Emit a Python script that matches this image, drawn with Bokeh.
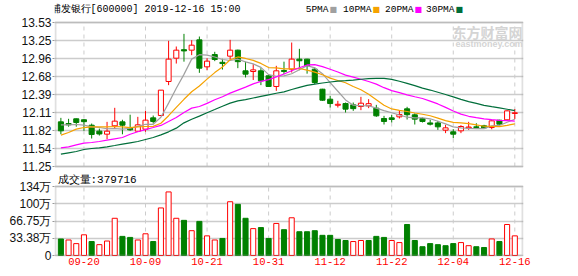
import numpy as np
from bokeh.plotting import figure
from bokeh.layouts import column
from bokeh.models import Range1d, FixedTicker, Label, BoxAnnotation
from bokeh.embed import file_html
from bokeh.resources import INLINE

# ---------------- data ----------------
dates = ["09-17", "09-18", "09-19", "09-20", "09-23", "09-24", "09-25", "09-26", "09-27", "09-30",
         "10-08", "10-09", "10-10", "10-11", "10-14", "10-15", "10-16", "10-17", "10-18", "10-21",
         "10-22", "10-23", "10-24", "10-25", "10-28", "10-29", "10-30", "10-31", "11-01", "11-04",
         "11-05", "11-06", "11-07", "11-08", "11-11", "11-12", "11-13", "11-14", "11-15", "11-18",
         "11-19", "11-20", "11-21", "11-22", "11-25", "11-26", "11-27", "11-28", "11-29", "12-02",
         "12-03", "12-04", "12-05", "12-06", "12-09", "12-10", "12-11", "12-12", "12-13", "12-16"]

opens = [11.957, 11.93, 12.005, 11.99, 11.904, 11.81, 11.762, 11.894, 11.957, 11.86,
         11.809, 11.841, 12.02, 12.057, 12.596, 12.965, 13.10, 13.092, 13.255, 12.828,
         13.023, 12.90, 12.997, 13.092, 12.765, 12.754, 12.765, 12.686, 12.517, 12.77,
         12.791, 12.95, 12.95, 12.791, 12.474, 12.316, 12.22, 12.247, 12.226, 12.20,
         12.21, 12.174, 12.01, 12.02, 12.036, 12.163, 12.068, 12.01, 11.94, 11.94,
         11.825, 11.799, 11.815, 11.86, 11.878, 11.894, 11.867, 11.983, 11.989, 12.09]
highs = [12.02, 12.005, 12.01, 12.00, 11.93, 11.85, 11.957, 12.179, 11.99, 12.07,
         12.036, 12.131, 12.057, 12.46, 13.24, 13.15, 13.35, 13.25, 13.308, 12.965,
         13.066, 12.955, 13.255, 13.10, 12.91, 12.87, 12.807, 12.712, 12.844, 12.91,
         13.213, 13.113, 12.955, 12.82, 12.48, 12.369, 12.29, 12.263, 12.263, 12.353,
         12.316, 12.226, 12.052, 12.068, 12.142, 12.195, 12.09, 12.026, 11.99, 11.973,
         11.91, 11.841, 11.904, 11.957, 11.935, 11.91, 11.983, 11.99, 12.142, 12.16]
lows = [11.762, 11.88, 11.88, 11.815, 11.693, 11.74, 11.683, 11.852, 11.76, 11.815,
        11.80, 11.80, 11.93, 12.05, 12.538, 12.88, 12.91, 13.013, 12.733, 12.775,
        12.918, 12.785, 12.944, 12.807, 12.66, 12.62, 12.538, 12.517, 12.448, 12.712,
        12.738, 12.775, 12.72, 12.554, 12.29, 12.184, 12.184, 12.105, 12.131, 12.142,
        12.174, 12.036, 11.915, 11.947, 12.01, 11.994, 11.915, 11.947, 11.90, 11.83,
        11.778, 11.699, 11.778, 11.83, 11.85, 11.857, 11.84, 11.91, 11.973, 12.00]
closes = [11.815, 11.91, 11.947, 11.96, 11.757, 11.765, 11.809, 11.968, 11.904, 11.83,
          11.91, 11.984, 11.963, 12.459, 12.95, 13.092, 13.08, 13.171, 12.807, 12.918,
          12.944, 12.88, 13.092, 12.91, 12.712, 12.78, 12.606, 12.517, 12.765, 12.755,
          12.95, 12.924, 12.844, 12.58, 12.30, 12.247, 12.235, 12.158, 12.166, 12.252,
          12.245, 12.052, 11.963, 11.994, 12.073, 12.07, 12.0, 11.963, 11.92, 11.878,
          11.862, 11.762, 11.883, 11.875, 11.868, 11.862, 11.973, 11.92, 12.131, 12.10]

# volume in 万 (10,000 shares)
volumes = [32, 30, 23, 40, 27, 21, 28, 72, 37, 35,
           30, 42, 27, 92, 123, 72, 68, 48, 66, 38,
           30, 33, 104, 99, 72, 52, 54, 33, 62, 50,
           73, 46, 46, 48, 39, 39, 31, 29, 27, 29,
           29, 37, 35, 29, 25, 60, 29, 17, 23, 21,
           19, 23, 25, 19, 17, 15.5, 32, 27, 60, 38]
# volume bar direction as drawn (u = red hollow, d = green)
vol_dir = ["d", "u", "u", "u", "d", "u", "u", "u", "d", "d",
           "u", "u", "d", "u", "u", "u", "d", "u", "d", "u",
           "u", "d", "u", "d", "d", "u", "d", "d", "u", "d",
           "u", "d", "d", "d", "d", "d", "d", "d", "u", "u",
           "d", "d", "d", "u", "u", "d", "d", "d", "d", "d",
           "d", "d", "u", "u", "d", "d", "u", "d", "u", "u"]

# moving-average values at the start of the window (read from the chart;
# they depend on sessions before the visible range)
ma5_head = [11.91, 11.91, 11.915, 11.904]
ma10_head = [11.746, 11.788, 11.841, 11.867, 11.878, 11.878, 11.878, 11.883, 11.878]
ma20_head = [11.546, 11.561, 11.593, 11.62, 11.63, 11.646, 11.667, 11.688, 11.709, 11.76,
             11.80, 11.835, 11.867, 11.90, 11.962, 12.026, 12.105, 12.174, 12.20]
ma30_head = [11.445, 11.466, 11.487, 11.519, 11.535, 11.546, 11.561, 11.582, 11.604, 11.625,
             11.646, 11.678, 11.709, 11.751, 11.799, 11.857, 11.941, 11.999, 12.047, 12.10,
             12.152, 12.205, 12.253, 12.29, 12.31, 12.335, 12.36, 12.385, 12.41]

price_ticks = [11.25, 11.535, 11.82, 12.105, 12.39, 12.675, 12.96, 13.245, 13.53]
price_tick_labels = ["11.25", "11.54", "11.82", "12.11", "12.39", "12.68", "12.96", "13.25", "13.53"]
vol_ticks = [0, 33.375, 66.75, 100.125, 133.5]
vol_tick_labels = ["0", "33.38万", "66.75万", "100万", "134万"]
date_tick_labels = ["09-20", "10-09", "10-21", "10-31", "11-12", "11-22", "12-04", "12-16"]

title_text = "浦发银行[600000] 2019-12-16 15:00"
vol_title = "成交量:379716"
ma_names = ["5PMA", "10PMA", "20PMA", "30PMA"]

# ---------------- derived ----------------
n = len(closes)
idx = np.arange(n)
o = np.array(opens); c = np.array(closes); h = np.array(highs); l = np.array(lows)


def moving_avg(head, N):
    out = list(head)
    for i in range(len(head), n):
        out.append(sum(closes[i - N + 1:i + 1]) / N)
    return out


ma5 = moving_avg(ma5_head, 5)
ma10 = moving_avg(ma10_head, 10)
ma20 = moving_avg(ma20_head, 20)
ma30 = moving_avg(ma30_head, 30)

RED = "#ff0000"
GREEN = "#008000"
MA_COLORS = ["#a0a0a0", "#f5a200", "#ff00ff", "#006e3a"]
GRID = "#cccccc"
FRAME = "#999999"

up = c >= o
cand_col = [RED if u else GREEN for u in up]
cand_fill = ["#ffffff" if u else GREEN for u in up]
body_top = np.maximum(o, c)
body_bot = np.minimum(o, c)

tick_idx = [dates.index(d) for d in date_tick_labels]

# ---------------- geometry (canvas pixels) ----------------
W = 578
H1 = 174                  # height of the price figure
H2 = 276 - H1             # height of the volume figure
FL, FR = 55, 522          # panel border left / right
P_TOP, P_BOT = 22, 166    # price panel top / bottom
V_TOP, V_BOT = 186, 255   # volume panel top / bottom
XB = (-0.7, 60.0)         # index range spanned by the panel border
PMIN, PMAX = price_ticks[0], price_ticks[-1]
VMAX = vol_ticks[-1]

kx = (XB[1] - XB[0]) / (FR - FL)
XR = (XB[0] - kx, XB[1] + kx)            # frame is 1px wider on each side
k1 = (PMAX - PMIN) / (P_BOT - P_TOP)
YR1 = (PMIN - (H1 - P_BOT) * k1, PMAX + P_TOP * k1)
k2 = VMAX / (V_BOT - V_TOP)
YR2 = (-1 * k2, VMAX + (V_TOP - H1) * k2)


def dx(px):
    return XB[0] + (px - FL) * kx


def dy1(py):
    return PMAX - (py - P_TOP) * k1


def dy2(py):
    return VMAX - (py - V_TOP) * k2


def style_yaxis(p, ticks, labels):
    p.yaxis.ticker = FixedTicker(ticks=ticks)
    p.yaxis.major_label_overrides = dict(zip(ticks, labels))
    p.yaxis.axis_line_color = None
    p.yaxis.major_tick_out = 2
    p.yaxis.major_tick_in = 0
    p.yaxis.major_tick_line_color = FRAME
    p.yaxis.minor_tick_line_color = None
    p.yaxis.major_label_standoff = 1
    p.yaxis.major_label_text_font = "Liberation Sans"
    p.yaxis.major_label_text_font_size = "12px"
    p.yaxis.major_label_text_color = "#111111"
    p.ygrid.ticker = FixedTicker(ticks=ticks)
    p.ygrid.grid_line_color = GRID
    p.ygrid.grid_line_width = 1.5
    p.xgrid.visible = False
    p.outline_line_color = None


# ---------------- price panel ----------------
p1 = figure(width=W, height=H1, x_range=Range1d(*XR), y_range=Range1d(*YR1),
            output_backend="svg", toolbar_location=None,
            x_axis_location=None, y_axis_location="left",
            min_border_left=FL - 1, min_border_right=W - FR - 1, min_border_top=0, min_border_bottom=0)
style_yaxis(p1, price_ticks, price_tick_labels)

p1.segment(x0=tick_idx, y0=PMIN, x1=tick_idx, y1=PMAX, line_color=GRID, line_width=1,
           line_dash="4 4")
p1.segment(x0=idx, y0=l, x1=idx, y1=h, line_color=cand_col, line_width=1)
p1.vbar(x=idx, width=0.66, top=body_top, bottom=body_bot, fill_color=cand_fill,
        line_color=cand_col, line_width=1)
for series, col in zip([ma5, ma10, ma20, ma30], MA_COLORS):
    p1.line(idx, series, line_color=col, line_width=1.2)
p1.add_layout(BoxAnnotation(left=XB[0], right=XB[1], bottom=PMIN, top=PMAX,
                            fill_alpha=0, line_color=FRAME, line_width=2))

# header texts
p1.add_layout(Label(x=dx(50), y=dy1(9), text=title_text, text_font="Liberation Mono",
                    text_font_size="10px", text_color="#000000", text_baseline="middle",
                    text_align="left"))
sq_x = [329, 372, 414, 455]
for name, col, sx in zip(ma_names, MA_COLORS, sq_x):
    p1.add_layout(Label(x=dx(sx - 1), y=dy1(9), text=name, text_font="Liberation Mono",
                        text_font_size="9.5px", text_color="#000000", text_baseline="middle",
                        text_align="right"))
    p1.add_layout(Label(x=dx(sx), y=dy1(9), text="■", text_font="DejaVu Sans",
                        text_font_size="8px", text_color=col, text_baseline="middle",
                        text_align="left"))
# watermark
p1.add_layout(Label(x=dx(452), y=dy1(31), text="东方财富网", text_font="Noto Sans CJK SC",
                    text_font_size="14px", text_font_style="bold", text_color="#d4d4d4",
                    text_baseline="middle", text_align="left"))
p1.add_layout(Label(x=dx(455), y=dy1(43), text="eastmoney.com", text_font="Liberation Sans",
                    text_font_size="9px", text_font_style="bold", text_color="#d4d4d4",
                    text_baseline="middle", text_align="left"))

# ---------------- volume panel ----------------
p2 = figure(width=W, height=H2, x_range=p1.x_range, y_range=Range1d(*YR2),
            output_backend="svg", toolbar_location=None,
            x_axis_location="below", y_axis_location="left",
            min_border_left=FL - 1, min_border_right=W - FR - 1, min_border_top=0,
            min_border_bottom=276 - V_BOT - 1)
style_yaxis(p2, vol_ticks, vol_tick_labels)
p2.xaxis.ticker = FixedTicker(ticks=tick_idx)
p2.xaxis.major_label_overrides = dict(zip(tick_idx, date_tick_labels))
p2.xaxis.axis_line_color = None
p2.xaxis.major_tick_line_color = None
p2.xaxis.major_tick_out = 0
p2.xaxis.major_tick_in = 0
p2.xaxis.minor_tick_line_color = None
p2.xaxis.major_label_standoff = 1
p2.xaxis.major_label_text_font = "Liberation Mono"
p2.xaxis.major_label_text_font_size = "10.5px"
p2.xaxis.major_label_text_color = RED

p2.segment(x0=tick_idx, y0=0, x1=tick_idx, y1=VMAX, line_color=GRID, line_width=1,
           line_dash="4 4")
vol_col = [RED if d == "u" else GREEN for d in vol_dir]
vol_fill = ["#ffffff" if d == "u" else GREEN for d in vol_dir]
p2.vbar(x=idx, width=0.66, top=volumes, bottom=0, fill_color=vol_fill,
        line_color=vol_col, line_width=1)
p2.add_layout(BoxAnnotation(left=XB[0], right=XB[1], bottom=0, top=VMAX,
                            fill_alpha=0, line_color=FRAME, line_width=2))

p2.add_layout(Label(x=dx(57), y=dy2(179), text=vol_title, text_font="Liberation Mono",
                    text_font_size="11px", text_color="#000000", text_baseline="middle",
                    text_align="left"))

layout = column(p1, p2, spacing=0)
open("out.html", "w").write(file_html(layout, INLINE))
